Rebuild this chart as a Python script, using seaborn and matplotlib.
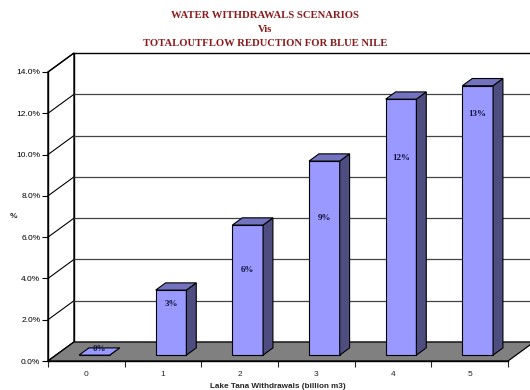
import matplotlib
matplotlib.use("Agg")
import matplotlib.pyplot as plt
from matplotlib.patches import Polygon
import seaborn as sns
import pandas as pd

# Withdrawal scenarios (billion m3) and resulting outflow reduction (%)
withdrawals = [0, 1, 2, 3, 4, 5]
reduction_pct = [0.0, 3.15, 6.3, 9.4, 12.4, 13.05]
y_ticks = [0, 2, 4, 6, 8, 10, 12, 14]
label_heights = [0.6, 2.75, 4.4, 6.95, 9.85, 11.95]

title_lines = ["WATER WITHDRAWALS SCENARIOS", "Vis",
               "TOTALOUTFLOW REDUCTION FOR BLUE NILE"]
x_title = "Lake Tana Withdrawals (billion m3)"

sns.set_style("white")
plt.rcParams["font.family"] = ["Liberation Sans", "DejaVu Sans"]

FRONT = "#9999ff"
SIDE = "#4d4d80"
TOP = "#7373c0"
FLOOR = "#808080"
TITLE_C = "#8b1a1a"

# 3D box geometry (depth offset in data units)
DX, DY = 0.339, 0.92
D1, D2 = 0.31, 0.69  # bar depth span as fraction of the box depth
BAR_W = 0.4
YMAX = 14

W, H = 530, 390
fig = plt.figure(figsize=(W / 100, H / 100), dpi=100)
px_x = 460 / 6
px_y = 289 / YMAX
ax_w = (6 + DX) * px_x
ax_h = (YMAX + DY) * px_y
ax = fig.add_axes([48 / W, 29 / H, ax_w / W, ax_h / H])
ax.set_facecolor("none")

df = pd.DataFrame({"w": [str(v) for v in withdrawals], "r": reduction_pct})
sns.barplot(data=df, x="w", y="r", color=FRONT, saturation=1, width=BAR_W,
            edgecolor="black", linewidth=0.8, ax=ax, zorder=3)
bars = list(ax.patches)

x0, x1 = -0.5, len(withdrawals) - 0.5

# back wall
ax.add_patch(Polygon([(x0 + DX, DY), (x1 + DX, DY), (x1 + DX, YMAX + DY),
                      (x0 + DX, YMAX + DY)], closed=True, facecolor="white",
                     edgecolor="black", lw=1.0, zorder=0.5, clip_on=False))
# left wall
ax.add_patch(Polygon([(x0, 0), (x0, YMAX), (x0 + DX, YMAX + DY), (x0 + DX, DY)],
                     closed=True, facecolor="white", edgecolor="black",
                     lw=1.0, zorder=0.55, clip_on=False))
for t in y_ticks[1:-1]:
    ax.plot([x0 + DX, x1 + DX], [t + DY, t + DY], color="#444444", lw=0.9,
            zorder=0.6, clip_on=False)
for t in y_ticks:
    ax.plot([x0, x0 + DX], [t, t + DY], color="black", lw=0.8, zorder=0.6,
            clip_on=False)
# floor
ax.add_patch(Polygon([(x0, 0), (x1, 0), (x1 + DX, DY), (x0 + DX, DY)],
                     closed=True, facecolor=FLOOR, edgecolor="black",
                     lw=0.9, zorder=0.7, clip_on=False))

# turn the flat bars into prisms sitting inside the box
for p, v, lh in zip(bars, reduction_pct, label_heights):
    bx = p.get_x() + D1 * DX
    by = D1 * DY
    p.set_x(bx)
    p.set_y(by)
    h = p.get_height()
    w = p.get_width()
    ddx = (D2 - D1) * DX
    ddy = (D2 - D1) * DY
    # right side face
    ax.add_patch(Polygon([(bx + w, by), (bx + w + ddx, by + ddy),
                          (bx + w + ddx, by + ddy + h), (bx + w, by + h)],
                         closed=True, facecolor=SIDE, edgecolor="black",
                         lw=0.8, zorder=3))
    # top face
    ax.add_patch(Polygon([(bx, by + h), (bx + w, by + h),
                          (bx + w + ddx, by + h + ddy), (bx + ddx, by + h + ddy)],
                         closed=True, facecolor=TOP if h > 0 else FRONT,
                         edgecolor="black", lw=0.8, zorder=3))
    ax.text(bx + w / 2 + (ddx / 2 if h == 0 else 0), lh, f"{v:.0f}%",
            ha="center", va="center", fontsize=6.5, fontweight="bold",
            family=["Liberation Serif"], color="#14143a", zorder=4)

ax.set_xlim(x0, x1 + DX)
ax.set_ylim(0, YMAX + DY)
for s in ["top", "right"]:
    ax.spines[s].set_visible(False)
ax.spines["left"].set_bounds(0, YMAX)
ax.spines["bottom"].set_bounds(x0, x1)
for s in ["left", "bottom"]:
    ax.spines[s].set_linewidth(1.0)
    ax.spines[s].set_color("black")
    ax.spines[s].set_zorder(5)

ax.set_yticks(y_ticks)
ax.set_yticklabels([f"{t:.1f}%" for t in y_ticks])
ax.set_xticks(range(len(withdrawals)))
ax.set_xticklabels([str(v) for v in withdrawals])
ax.set_xticks([x0 + i for i in range(len(withdrawals) + 1)], minor=True)
ax.tick_params(axis="y", which="major", length=4, width=0.8, labelsize=6,
               direction="out", left=True, pad=1.5, colors="black")
ax.tick_params(axis="x", which="major", length=0, labelsize=6, pad=7)
ax.tick_params(axis="x", which="minor", length=4, width=0.8, direction="out",
               bottom=True)
ax.set_xlabel(x_title, fontsize=5.9, fontweight="bold", labelpad=3)
ax.xaxis.set_label_coords((2.5 - x0) / (x1 + DX - x0), -0.07)
ax.set_ylabel("")
fig.text(13 / W, 1 - 216 / H, "%", fontsize=6, fontweight="bold",
         ha="center", va="center")

for i, line in enumerate(title_lines):
    fig.text(265 / W, 1 - (15 + 14 * i) / H, line, ha="center", va="center",
             fontsize=7.7, fontweight="bold", family=["Liberation Serif"],
             color=TITLE_C)

fig.savefig("out.png", dpi=100, facecolor="white")
